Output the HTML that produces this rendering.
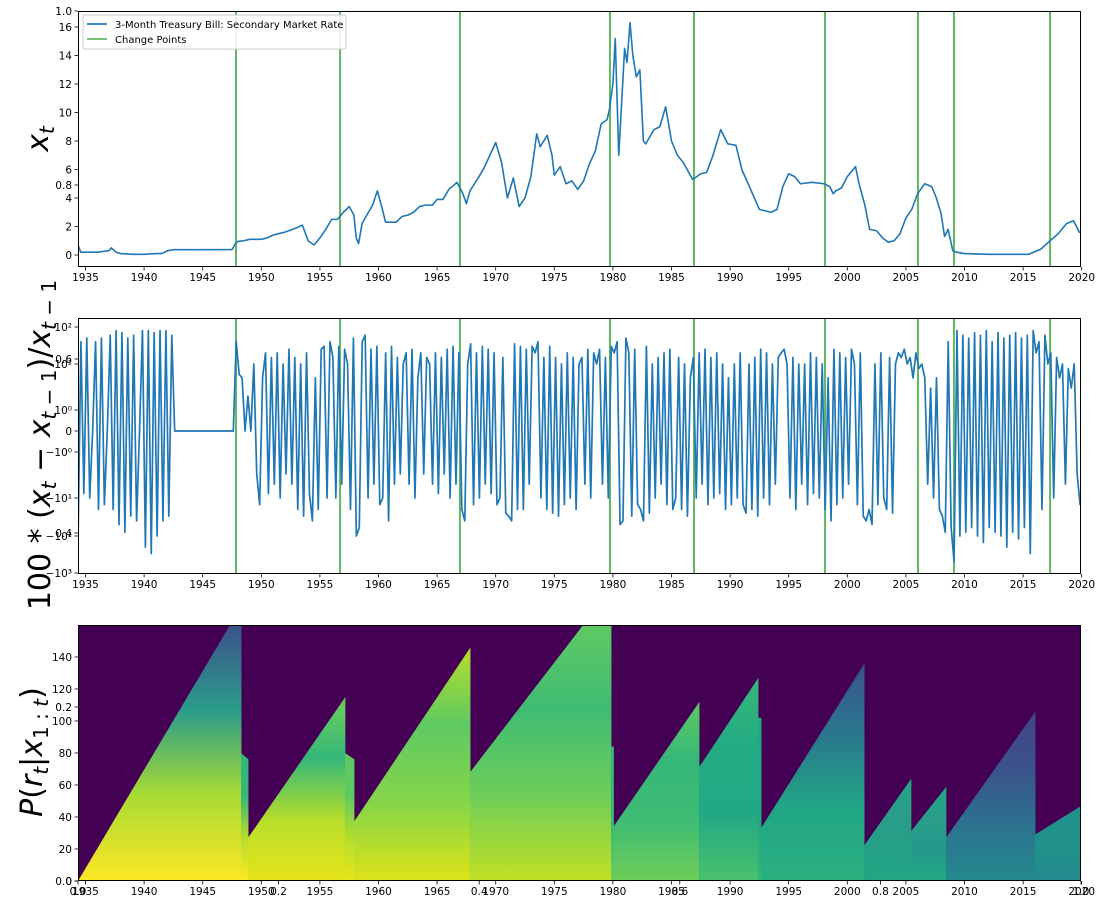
<!DOCTYPE html>
<html><head><meta charset="utf-8">
<style>
html,body{margin:0;padding:0;background:#fff;}
svg{display:block;font-family:"DejaVu Sans","Liberation Sans",sans-serif;}
</style></head>
<body>
<svg id="chart" width="1100" height="905" viewBox="0 0 1100 905" xmlns="http://www.w3.org/2000/svg">
<defs id="defs"></defs>
<g id="heat"></g>
<g id="p1"></g>
<g id="p2"></g>
<g id="frames"></g>
<g id="ticks"></g>
<text transform="translate(48,139) rotate(-90)" text-anchor="middle" font-size="30" font-style="italic" font-family="DejaVu Sans, sans-serif">x<tspan font-size="20" dy="6">t</tspan></text>
<text transform="translate(50,445) rotate(-90)" text-anchor="middle" font-size="30" font-family="DejaVu Sans, sans-serif">100 * (<tspan font-style="italic">x</tspan><tspan font-size="20" dy="6" font-style="italic">t</tspan><tspan dy="-6"> − </tspan><tspan font-style="italic">x</tspan><tspan font-size="20" dy="6" font-style="italic">t</tspan><tspan font-size="20"> − 1</tspan><tspan dy="-6">)/</tspan><tspan font-style="italic">x</tspan><tspan font-size="20" dy="6" font-style="italic">t</tspan><tspan font-size="20"> − 1</tspan></text>
<text transform="translate(42,752) rotate(-90)" text-anchor="middle" font-size="30" font-family="DejaVu Sans, sans-serif"><tspan font-style="italic">P</tspan>(<tspan font-style="italic">r</tspan><tspan font-size="20" dy="6" font-style="italic">t</tspan><tspan dy="-6">|</tspan><tspan font-style="italic">x</tspan><tspan font-size="20" dy="6">1 : </tspan><tspan font-size="20" font-style="italic">t</tspan><tspan dy="-6">)</tspan></text>
<g id="legend">
<rect x="83" y="15" width="263" height="34" fill="#fff" fill-opacity="0.85" stroke="#ccc" rx="2"/>
<line x1="87" y1="24" x2="107" y2="24" stroke="#1f77b4" stroke-width="1.8"/>
<text x="115" y="28" font-size="10">3-Month Treasury Bill: Secondary Market Rate</text>
<line x1="87" y1="39" x2="107" y2="39" stroke="#2ca02c" stroke-opacity="0.75" stroke-width="1.8"/>
<text x="115" y="43" font-size="10">Change Points</text>
</g>
</svg>
<script>
// ---------- data ----------
const rateYears=[1934.36,1934.6,1935,1936,1937,1937.2,1937.6,1938,1939,1940,1941,1941.5,1942,1942.5,1947.5,1947.8,1948,1948.5,1949,1950,1950.5,1951,1952,1953,1953.5,1954,1954.5,1955,1955.5,1956,1956.5,1957,1957.5,1957.9,1958.1,1958.3,1958.6,1959,1959.5,1959.9,1960.3,1960.6,1961,1961.5,1962,1962.5,1963,1963.5,1964,1964.6,1965,1965.5,1966,1966.7,1967.2,1967.5,1967.8,1968.5,1969,1969.5,1970,1970.5,1971,1971.5,1972,1972.5,1973,1973.5,1973.8,1974.1,1974.4,1974.8,1975,1975.5,1976,1976.5,1977,1977.5,1978,1978.5,1979,1979.5,1979.7,1980,1980.2,1980.5,1981,1981.2,1981.46,1981.7,1982,1982.3,1982.6,1982.8,1983.5,1984,1984.5,1985,1985.5,1986,1986.8,1987.5,1988,1988.5,1989.2,1989.8,1990.5,1991,1991.7,1992.5,1993.5,1994,1994.5,1995,1995.5,1996,1997,1998,1998.5,1998.8,1999,1999.5,2000,2000.7,2001,2001.5,2001.9,2002.5,2003,2003.5,2004,2004.5,2005,2005.5,2006,2006.6,2007.2,2007.6,2008,2008.3,2008.6,2009,2009.3,2010,2012,2014,2015.5,2015.9,2016.5,2017.3,2018,2018.7,2019.3,2019.8,2020];
const rateValues=[0.7,0.2,0.2,0.2,0.3,0.5,0.2,0.1,0.05,0.05,0.1,0.1,0.3,0.37,0.38,0.8,0.95,1.0,1.1,1.1,1.2,1.4,1.6,1.9,2.1,1.0,0.7,1.2,1.8,2.5,2.5,3.0,3.4,2.8,1.2,0.8,2.2,2.8,3.5,4.5,3.3,2.3,2.3,2.3,2.7,2.8,3.0,3.4,3.5,3.5,3.9,3.9,4.6,5.1,4.3,3.6,4.5,5.4,6.1,7.0,7.9,6.5,4.0,5.4,3.4,4.0,5.5,8.5,7.6,8.0,8.4,7.0,5.6,6.2,5.0,5.2,4.6,5.2,6.4,7.3,9.2,9.5,10.2,12.0,15.2,7.0,14.5,13.5,16.3,14.0,12.5,13.0,8.0,7.8,8.8,9.0,10.4,8.0,7.0,6.5,5.3,5.7,5.8,6.9,8.8,7.8,7.7,6.0,4.7,3.2,3.0,3.2,4.8,5.7,5.5,5.0,5.1,5.0,4.8,4.3,4.5,4.7,5.5,6.2,5.0,3.5,1.8,1.7,1.2,0.9,1.0,1.5,2.6,3.2,4.3,5.0,4.8,4.0,2.9,1.3,1.8,0.3,0.2,0.1,0.05,0.05,0.05,0.2,0.4,1.0,1.5,2.2,2.4,1.6,1.55];
const changePoints=[1947.84,1956.72,1966.95,1979.75,1986.92,1998.1,2006.03,2009.1,2017.3];
const pctStartYear=1934.36, pctStep=0.25;
const pctValues=[-150,40,-8,50, -10,0,40,-20, 50,-15,0,60, -20,80,-50,70, -80,50,-30,60, -40,0,80,-200, 80,-300,70,-100, 80,-40,80,-30, 60,0,0,0, 0,0,0,0, 0,0,0,0, 0,0,0,0, 0,0,0,0, 0,0,40,6,
5,0,2,0, 10,-3,-15,5, 20,-8,15,-5, 20,-10,10,-3, 25,-5,15,-20, 10,-30,20,-8, -40,5,-20,25, 30,-10,40,15, -10,30,-5,25, 10,-20,50,-100,
-60,40,60,-10, 25,-5,30,-15, -10,20,-40,30, -5,15,-3,10, 20,-5,25,-10, 5,20,-3,15, 10,-5,20,-8, 15,-3,25,-10, 30,-5,20,-20, -40,10,35,-15,
20,-10,30,-5, 25,-8,20,-15, -10,15,-25,-30, -40,35,-20,30, -20,25,-5,30, 20,40,-10,15, -20,30,-25,15, -30,10,-15,20, -10,15,-20,10, 15,-5,25,-10,
20,10,25,-5, 15,-10,30,20, 40,-50,-40,50, 20,-30,25,-15, -20,-40,30,-25, 10,-10,15,-5, 20,-15,25,-20, -10,15,-20,10, -30,5,15,-10, 20,-5,25,-15,
15,-10,20,-8, 10,-20,5,-15, 10,-10,20,-15, -25,10,-20,15, -30,25,-10,20, -15,10,-5,15, 20,25,10,-10, 15,-20,10,-5, 10,-15,20,-8, 15,-10,10,-20,
5,-40,25,-15, 20,-10,15,-5, 25,10,-15,20, -30,-40,-20,-50, 10,-15,20,-10, -20,15,-25,10, 20,15,25,10, 15,5,20,8, 10,5,-5,3, -10,5,-20,-30,
-80,40,-60,-500, 80,-100,60,-80, 50,-60,70,-100, 60,-150,80,-60, 40,-80,70,-100, 50,-200,60,-80, 70,-120,50,-60, 60,-300,80,20, 40,-20,60,10,
20,-10,15,5, 10,-5,8,3, 10,-3,-15,-10, -5];
// run-length segments (including short "stair" remnants after drops)
const segStartYear=[1934.36,1948.27,1948.87,1957.14,1957.91,1967.81,1979.84,1980.05,1987.35,1992.38,1992.64,2001.43,2005.43,2008.42,2016.02];
const segStartRun=[0,80,27,80,37,68,84,34,71,102,33,22,31,27,29];
const segEndYear=[1948.27,1948.87,1957.14,1957.91,1967.81,1979.84,1980.05,1987.35,1992.38,1992.64,2001.43,2005.43,2008.42,2016.02,2019.94];
const segEndRun=[172,76,115,76,146,183,84,112,127,102,136,64,59,106,47];
const segColors=[["#fde725","#a8db34","#2a9c8a","#3b528b"],["#fde725","#b5de2b","#35b779","#35b779"],["#e8e419","#b5de2b","#35b779","#6ece58"],["#e8e419","#b5de2b","#5ec962","#5ec962"],["#dde318","#86d549","#5ec962","#b5de2b"],["#c2df23","#6ece58","#3fbc73","#5ec962"],["#6ece58","#3fbc73","#35b779","#35b779"],["#6ece58","#3fbc73","#35b779","#5ec962"],["#4ac16d","#22a884","#25ab82","#35b779"],["#35b779","#22a884","#22a884","#22a884"],["#2ab07f","#21a685","#2a788e","#3b528b"],["#21a685","#25a085","#2a9c8a","#22a884"],["#22a884","#23998b","#2a9c8a","#22a884"],["#23898e","#2c728e","#3b528b","#414487"],["#23898e","#21918c","#21918c","#21918c"]];
const yearTicks=[1935,1940,1945,1950,1955,1960,1965,1970,1975,1980,1985,1990,1995,2000,2005,2010,2015,2020];
const rateTicks=[0,2,4,6,8,10,12,14,16];
const pctTicks=[100,10,1,0,-1,-10,-100,-1000];
const pctTickLabels=["10²","10¹","10⁰","0","−10⁰","−10¹","−10²","−10³"];
const runTicks=[0,20,40,60,80,100,120,140];
const bgTicks=[0,0.2,0.4,0.6,0.8,1.0];
const bgTickLabels=["0.0","0.2","0.4","0.6","0.8","1.0"];

// ---------- scales ----------
const X0=78,X1=1081,Y0=1934.36,Y1=2019.94;
const P1={top:11,bot:267},P2={top:318,bot:574},P3={top:625,bot:881};
const xS=y=>X0+(y-Y0)/(Y1-Y0)*(X1-X0);
const y1S=v=>255-14.25*v;
function y2S(v){
  const a=Math.abs(v),s=Math.sign(v);
  if(a<=1) return 431-21*v;
  const L=Math.log10(a);
  const pos=[410,364,327,290],neg=[452,498,536,573];
  const arr=s>0?pos:neg;
  const i=Math.min(Math.floor(L),2),f=L-i;
  return arr[i]+(arr[i+1]-arr[i])*f;
}
const y3S=r=>881-1.6*r;
const NS="http://www.w3.org/2000/svg";
function mk(tag,attrs,parent){const e=document.createElementNS(NS,tag);for(const k in attrs)e.setAttribute(k,attrs[k]);parent.appendChild(e);return e;}
const defs=document.getElementById('defs');

[["c1",P1],["c2",P2],["c3",P3]].forEach(([id,P])=>{const c=mk('clipPath',{id:id},defs);mk('rect',{x:X0,y:P.top,width:X1-X0,height:P.bot-P.top},c);});

// ---------- heatmap ----------
const heat=document.getElementById('heat');
heat.setAttribute('clip-path','url(#c3)');
const bg=mk('rect',{x:X0,y:P3.top,width:X1-X0,height:P3.bot-P3.top,fill:"#440154"},heat);


for(let i=0;i<segStartYear.length;i++){
  const g=mk('linearGradient',{id:'sg'+i,gradientUnits:'userSpaceOnUse',x1:0,y1:y3S(0),x2:0,y2:y3S(Math.min(Math.max(segEndRun[i],segStartRun[i]),160))},defs);
  const cs=segColors[i];
  cs.forEach((c,j)=>mk('stop',{offset:(j/(cs.length-1)),'stop-color':c},g));
  const xa=xS(segStartYear[i]),xb=xS(segEndYear[i])+0.4;
  const pts=[[xa,y3S(0)],[xa,y3S(segStartRun[i])],[xb,y3S(segEndRun[i])],[xb,y3S(0)]];
  const p=mk('polygon',{points:pts.map(q=>q.join(',')).join(' '),fill:'url(#sg'+i+')'},heat);
  
  
}

// ---------- panel 1 ----------
const p1=document.getElementById('p1');
const g1=mk('g',{'clip-path':'url(#c1)'},p1);
changePoints.forEach(c=>{const l=mk('line',{x1:xS(c),x2:xS(c),y1:P1.top,y2:P1.bot,stroke:'#2ca02c','stroke-opacity':0.75,'stroke-width':2},g1);

});
const rl=mk('polyline',{points:rateYears.map((y,i)=>xS(y)+','+y1S(rateValues[i])).join(' '),fill:'none',stroke:'#1f77b4','stroke-width':1.6,'stroke-linejoin':'round'},g1);



// ---------- panel 2 ----------
const p2=document.getElementById('p2');
const g2=mk('g',{'clip-path':'url(#c2)'},p2);
changePoints.forEach(c=>{const l=mk('line',{x1:xS(c),x2:xS(c),y1:P2.top,y2:P2.bot,stroke:'#2ca02c','stroke-opacity':0.75,'stroke-width':2},g2);

});
const pl=mk('polyline',{points:pctValues.map((v,i)=>xS(pctStartYear+i*pctStep)+','+y2S(v)).join(' '),fill:'none',stroke:'#1f77b4','stroke-width':1.7,'stroke-linejoin':'round'},g2);



// ---------- frames ----------
const fr=document.getElementById('frames');
[P1,P2,P3].forEach(P=>{const r=mk('rect',{x:X0+0.5,y:P.top+0.5,width:X1-X0-1,height:P.bot-P.top-1,fill:'none',stroke:'#000','stroke-width':1},fr);

});

// ---------- ticks ----------
const tk=document.getElementById('ticks');
function tick(x1,y1,x2,y2){mk('line',{x1:x1,y1:y1,x2:x2,y2:y2,stroke:'#000','stroke-width':0.8},tk);}
function label(x,y,t,anchor,name){const e=mk('text',{x:x,y:y,'font-size':10.5,'text-anchor':anchor,fill:'#000'},tk);e.textContent=t;

}
[P1,P2,P3].forEach(P=>{yearTicks.forEach(y=>{const x=xS(y);if(x>X1+1)return;tick(x,P.bot,x,P.bot+3.5);label(x,P.bot+14,String(y),'middle','year-tick-label');});});
rateTicks.forEach(v=>{const y=y1S(v);tick(X0-3.5,y,X0,y);label(X0-6,y+4,String(v),'end','rate-tick-label');});
pctTicks.forEach((v,i)=>{const y=y2S(v);tick(X0-3.5,y,X0,y);label(X0-6,y+4,pctTickLabels[i],'end','pct-tick-label');});
runTicks.forEach(v=>{const y=y3S(v);tick(X0-3.5,y,X0,y);label(X0-6,y+4,String(v),'end','run-length-tick-label');});
bgTicks.forEach((v,i)=>{const y=881-v*870;tick(X0-3.5,y,X0,y);label(X0-6,y+4,bgTickLabels[i],'end','background-y-tick-label');
const x=X0+v*(X1-X0);tick(x,881,x,884.5);label(x,895,bgTickLabels[i],'middle','background-x-tick-label');});
</script>
</body></html>
